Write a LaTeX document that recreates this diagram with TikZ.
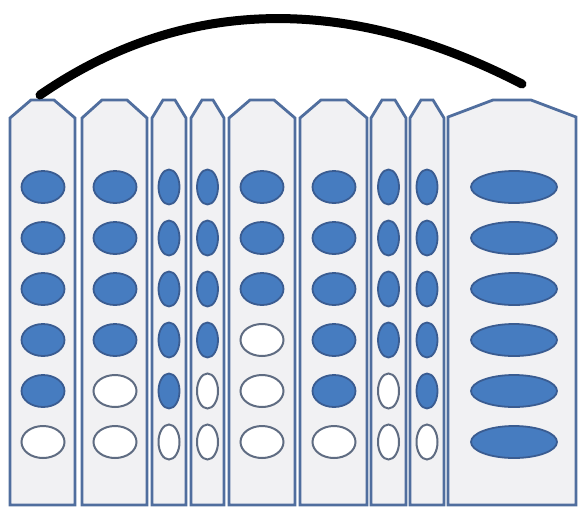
\documentclass[tikz,border=0pt]{standalone}
\usetikzlibrary{shapes.geometric}
\definecolor{cellfill}{RGB}{241,241,243}
\definecolor{celledge}{RGB}{80,110,158}
\definecolor{nucfill}{RGB}{70,124,192}
\definecolor{nucedge}{RGB}{58,92,145}
\definecolor{emptyedge}{RGB}{95,108,130}
\begin{document}
\begin{tikzpicture}[x=1pt,y=-1pt,
 cell/.style={draw=celledge,fill=cellfill,line width=2.8pt,line join=miter},
 nucF/.style={ellipse,draw=nucedge,fill=nucfill,line width=1.8pt,inner sep=0pt},
 nucE/.style={ellipse,draw=emptyedge,fill=white,line width=2pt,inner sep=0pt},
 medium/.style={minimum width=43pt,minimum height=32pt},
 narrow/.style={minimum width=21pt,minimum height=35pt},
 wide/.style={minimum width=86pt,minimum height=32pt},
 arcline/.style={line width=9pt,line cap=round}]
\useasboundingbox (0,0) rectangle (578,507);
\foreach \l/\r/\c/\d in {10/75/21/18, 82/147/20/18, 152/186/11/18, 191/224/11/18, 229/295/21/18, 300/367/21/18, 371/406/11/18, 410/444/11/18, 448/576/45/17}
  \draw[cell] (\l,505) -- (\l,100+\d) -- (\l+\c,100) -- (\r-\c,100) -- (\r,100+\d) -- (\r,505) -- cycle;
\foreach \x/\t/\k/\i in {43/medium/5/1, 115/medium/4/2, 169/narrow/5/3, 207.5/narrow/4/4, 262/medium/3/5, 334/medium/5/6, 388.5/narrow/4/7, 427/narrow/5/8, 514/wide/6/9}{
  \foreach \yy [count=\j] in {187,238,289,340,391,442}{
    \ifnum\j>\k \def\st{nucE}\else\def\st{nucF}\fi
    \node[\st,\t] (n\i-\j) at (\x,\yy) {};
  }
}
\coordinate (a0) at (40,95);
\coordinate (a1) at (522,84);
\draw[arcline] (a0) .. controls (185,-5) and (350,-5) .. (a1);
\end{tikzpicture}
\end{document}
